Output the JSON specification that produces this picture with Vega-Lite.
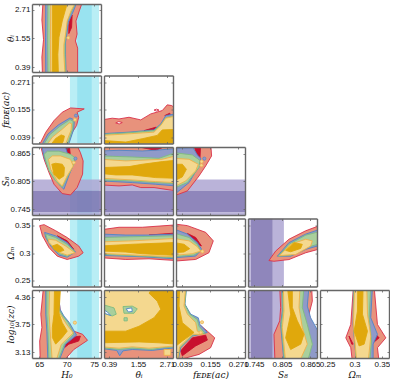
{"$schema":"https://vega.github.io/schema/vega-lite/v6.json","padding":{"left":1,"top":3,"right":0,"bottom":0},"background":"white","bounds":"flush","spacing":{"row":3.5,"column":3},"columns":5,
"config":{"legend":{"disable":true},"axis":{"grid":false,"domainColor":"#666666","domainWidth":1.4,"tickColor":"#666666","tickWidth":0.8,"tickSize":-2,"labelFont":"Liberation Sans","labelFontSize":8,"labelColor":"#111111","labelPadding":4,"labelOverlap":false,"labelFlush":false,"labelBound":false,"titleFont":"DejaVu Serif","titleFontSize":9,"titleFontWeight":"normal","titleFontStyle":"italic","titleColor":"#111111","format":".3~g"},"axisX":{"titlePadding":2},"axisY":{"titlePadding":-1},"view":{"stroke":null}},
"datasets":{
"blank":[{"k":1}],
"hb":[{"a":70.6,"b":71.9,"id":"l"},{"a":71.9,"b":74.6,"id":"x"},{"a":74.6,"b":75.9,"id":"l"}],
"sb":[{"a":0.785,"b":0.809,"id":"m"},{"a":0.738,"b":0.785,"id":"k"},{"a":0.732,"b":0.738,"id":"m"}],
"p11":[{"id":"s","x":65.7,"y":3.05},{"id":"s","x":72.9,"y":3.05},{"id":"s","x":72.3,"y":2.67},{"id":"s","x":71.7,"y":2.26},{"id":"s","x":71.9,"y":1.73},{"id":"s","x":71.6,"y":1.45},{"id":"s","x":72.0,"y":1.16},{"id":"s","x":72.0,"y":0.8},{"id":"s","x":72.0,"y":0.1},{"id":"s","x":65.6,"y":0.1},{"id":"s","x":65.5,"y":0.8},{"id":"s","x":65.8,"y":1.5},{"id":"s","x":65.5,"y":2.3},{"id":"s","x":65.7,"y":3.05},
{"id":"r","x":70.4,"y":2.1},{"id":"r","x":70.7,"y":2.4},{"id":"r","x":71.0,"y":2.5},{"id":"r","x":70.9,"y":2.0},{"id":"r","x":70.4,"y":1.75},{"id":"r","x":70.4,"y":2.1},
{"id":"b","x":66.2,"y":3.05},{"id":"b","x":71.9,"y":3.05},{"id":"b","x":71.3,"y":2.7},{"id":"b","x":70.3,"y":2.2},{"id":"b","x":70.1,"y":1.8},{"id":"b","x":69.8,"y":1.4},{"id":"b","x":69.8,"y":0.9},{"id":"b","x":69.9,"y":0.1},{"id":"b","x":66.2,"y":0.1},{"id":"b","x":66.15,"y":1.6},{"id":"b","x":66.2,"y":3.05},
{"id":"n","x":66.6,"y":3.05},{"id":"n","x":71.8,"y":3.05},{"id":"n","x":71.0,"y":2.7},{"id":"n","x":70.1,"y":2.25},{"id":"n","x":69.9,"y":1.8},{"id":"n","x":69.7,"y":1.4},{"id":"n","x":69.7,"y":0.9},{"id":"n","x":69.8,"y":0.1},{"id":"n","x":66.6,"y":0.1},{"id":"n","x":66.55,"y":1.5},{"id":"n","x":66.6,"y":3.05},
{"id":"c","x":67.1,"y":3.05},{"id":"c","x":71.7,"y":3.05},{"id":"c","x":70.8,"y":2.67},{"id":"c","x":70.1,"y":2.26},{"id":"c","x":69.8,"y":1.73},{"id":"c","x":69.5,"y":1.3},{"id":"c","x":69.5,"y":0.9},{"id":"c","x":69.7,"y":0.1},{"id":"c","x":67.1,"y":0.1},{"id":"c","x":67.05,"y":1.5},{"id":"c","x":67.1,"y":3.05},
{"id":"o","x":67.4,"y":3.05},{"id":"o","x":70.2,"y":3.05},{"id":"o","x":69.2,"y":2.26},{"id":"o","x":68.6,"y":1.6},{"id":"o","x":68.4,"y":0.9},{"id":"o","x":68.5,"y":0.1},{"id":"o","x":67.4,"y":0.1},{"id":"o","x":67.4,"y":3.05}],
"d11":[{"id":"y","x":70.3,"y":1.58}],
"p21":[{"id":"s","x":65.0,"y":0.005},{"id":"s","x":66.2,"y":0.061},{"id":"s","x":67.7,"y":0.11},{"id":"s","x":69.2,"y":0.145},{"id":"s","x":70.7,"y":0.163},{"id":"s","x":73.2,"y":0.159},{"id":"s","x":71.9,"y":0.145},{"id":"s","x":72.2,"y":0.124},{"id":"s","x":71.8,"y":0.089},{"id":"s","x":71.0,"y":0.06},{"id":"s","x":70.1,"y":0.005},{"id":"s","x":65.0,"y":0.005},
{"id":"b","x":65.4,"y":0.005},{"id":"b","x":66.6,"y":0.054},{"id":"b","x":68.5,"y":0.092},{"id":"b","x":70.6,"y":0.121},{"id":"b","x":71.4,"y":0.113},{"id":"b","x":71.3,"y":0.075},{"id":"b","x":70.3,"y":0.005},{"id":"b","x":65.4,"y":0.005},
{"id":"n","x":65.7,"y":0.005},{"id":"n","x":66.9,"y":0.05},{"id":"n","x":68.7,"y":0.085},{"id":"n","x":70.6,"y":0.114},{"id":"n","x":71.2,"y":0.107},{"id":"n","x":71.1,"y":0.075},{"id":"n","x":70.1,"y":0.005},{"id":"n","x":65.7,"y":0.005},
{"id":"c","x":66.3,"y":0.005},{"id":"c","x":67.4,"y":0.04},{"id":"c","x":69.0,"y":0.07},{"id":"c","x":70.5,"y":0.1},{"id":"c","x":70.9,"y":0.097},{"id":"c","x":70.8,"y":0.07},{"id":"c","x":69.7,"y":0.005},{"id":"c","x":66.3,"y":0.005},
{"id":"o","x":67.0,"y":0.005},{"id":"o","x":68.0,"y":0.035},{"id":"o","x":69.0,"y":0.05},{"id":"o","x":69.6,"y":0.045},{"id":"o","x":69.4,"y":0.025},{"id":"o","x":69.0,"y":0.005},{"id":"o","x":67.0,"y":0.005}],
"d21":[{"id":"d","x":71.7,"y":0.131},{"id":"y","x":71.5,"y":0.114}],
"p31":[{"id":"s","x":65.1,"y":0.89},{"id":"s","x":65.9,"y":0.853},{"id":"s","x":66.8,"y":0.824},{"id":"s","x":67.7,"y":0.799},{"id":"s","x":69.2,"y":0.7786},{"id":"s","x":70.7,"y":0.7757},{"id":"s","x":71.9,"y":0.7917},{"id":"s","x":72.9,"y":0.8207},{"id":"s","x":73.0,"y":0.8497},{"id":"s","x":72.5,"y":0.8678},{"id":"s","x":71.6,"y":0.89},{"id":"s","x":65.1,"y":0.89},
{"id":"r","x":69.5,"y":0.89},{"id":"r","x":70.1,"y":0.864},{"id":"r","x":70.7,"y":0.86},{"id":"r","x":70.4,"y":0.89},{"id":"r","x":69.5,"y":0.89},
{"id":"b","x":65.4,"y":0.89},{"id":"b","x":65.9,"y":0.857},{"id":"b","x":66.8,"y":0.831},{"id":"b","x":67.7,"y":0.813},{"id":"b","x":68.9,"y":0.795},{"id":"b","x":69.5,"y":0.788},{"id":"b","x":70.5,"y":0.8207},{"id":"b","x":71.5,"y":0.8497},{"id":"b","x":70.7,"y":0.8606},{"id":"b","x":70.1,"y":0.8678},{"id":"b","x":69.5,"y":0.89},{"id":"b","x":65.4,"y":0.89},
{"id":"n","x":65.9,"y":0.864},{"id":"n","x":66.2,"y":0.85},{"id":"n","x":66.8,"y":0.828},{"id":"n","x":68.0,"y":0.806},{"id":"n","x":69.2,"y":0.792},{"id":"n","x":70.4,"y":0.8207},{"id":"n","x":71.3,"y":0.842},{"id":"n","x":71.5,"y":0.857},{"id":"n","x":70.7,"y":0.864},{"id":"n","x":68.6,"y":0.871},{"id":"n","x":66.5,"y":0.871},{"id":"n","x":65.9,"y":0.864},
{"id":"c","x":66.7,"y":0.853},{"id":"c","x":67.1,"y":0.8316},{"id":"c","x":68.3,"y":0.806},{"id":"c","x":69.2,"y":0.795},{"id":"c","x":70.1,"y":0.817},{"id":"c","x":71.2,"y":0.8388},{"id":"c","x":70.7,"y":0.853},{"id":"c","x":68.9,"y":0.8606},{"id":"c","x":67.4,"y":0.8606},{"id":"c","x":66.7,"y":0.853},
{"id":"o","x":67.3,"y":0.8425},{"id":"o","x":67.7,"y":0.8207},{"id":"o","x":68.6,"y":0.8098},{"id":"o","x":69.5,"y":0.817},{"id":"o","x":69.6,"y":0.8352},{"id":"o","x":69.2,"y":0.8425},{"id":"o","x":68.0,"y":0.8446},{"id":"o","x":67.3,"y":0.8425}],
"d31":[{"id":"d","x":71.6,"y":0.8548},{"id":"y","x":71.3,"y":0.846}],
"p41":[{"id":"s","x":65.1,"y":0.35},{"id":"s","x":65.9,"y":0.3518},{"id":"s","x":68.0,"y":0.3407},{"id":"s","x":70.1,"y":0.3283},{"id":"s","x":72.2,"y":0.3129},{"id":"s","x":73.0,"y":0.3005},{"id":"s","x":72.2,"y":0.2943},{"id":"s","x":70.1,"y":0.2882},{"id":"s","x":68.3,"y":0.2943},{"id":"s","x":66.8,"y":0.3098},{"id":"s","x":65.6,"y":0.3314},{"id":"s","x":65.1,"y":0.35},
{"id":"r","x":68.3,"y":0.3314},{"id":"r","x":70.1,"y":0.3222},{"id":"r","x":71.3,"y":0.3067},{"id":"r","x":70.1,"y":0.316},{"id":"r","x":68.3,"y":0.3314},
{"id":"b","x":66.0,"y":0.3376},{"id":"b","x":68.0,"y":0.3314},{"id":"b","x":70.1,"y":0.3191},{"id":"b","x":71.6,"y":0.3018},{"id":"b","x":70.1,"y":0.2925},{"id":"b","x":68.6,"y":0.2962},{"id":"b","x":67.1,"y":0.3129},{"id":"b","x":66.2,"y":0.3283},{"id":"b","x":66.0,"y":0.3376},
{"id":"n","x":66.2,"y":0.3345},{"id":"n","x":68.0,"y":0.3283},{"id":"n","x":70.1,"y":0.316},{"id":"n","x":71.5,"y":0.3024},{"id":"n","x":70.1,"y":0.2943},{"id":"n","x":68.7,"y":0.2987},{"id":"n","x":67.3,"y":0.3129},{"id":"n","x":66.4,"y":0.3271},{"id":"n","x":66.2,"y":0.3345},
{"id":"c","x":66.7,"y":0.3253},{"id":"c","x":68.0,"y":0.3234},{"id":"c","x":69.8,"y":0.3129},{"id":"c","x":71.5,"y":0.3005},{"id":"c","x":70.1,"y":0.2962},{"id":"c","x":68.9,"y":0.3005},{"id":"c","x":67.7,"y":0.3098},{"id":"c","x":66.8,"y":0.3191},{"id":"c","x":66.7,"y":0.3253},
{"id":"o","x":67.4,"y":0.3129},{"id":"o","x":68.3,"y":0.316},{"id":"o","x":69.2,"y":0.3098},{"id":"o","x":69.5,"y":0.3049},{"id":"o","x":68.6,"y":0.3018},{"id":"o","x":67.7,"y":0.3067},{"id":"o","x":67.4,"y":0.3129}],
"p51":[{"id":"s","x":65.8,"y":4.6},{"id":"s","x":65.3,"y":3.98},{"id":"s","x":65.5,"y":3.68},{"id":"s","x":65.1,"y":3.38},{"id":"s","x":65.2,"y":2.9},{"id":"s","x":69.2,"y":2.9},{"id":"s","x":71.3,"y":3.19},{"id":"s","x":73.8,"y":3.395},{"id":"s","x":72.9,"y":3.53},{"id":"s","x":71.3,"y":3.6},{"id":"s","x":70.4,"y":3.75},{"id":"s","x":69.5,"y":3.9},{"id":"s","x":68.9,"y":4.0},{"id":"s","x":68.3,"y":4.6},{"id":"s","x":65.8,"y":4.6},
{"id":"r","x":68.9,"y":3.27},{"id":"r","x":70.7,"y":3.46},{"id":"r","x":72.5,"y":3.49},{"id":"r","x":72.2,"y":3.38},{"id":"r","x":70.4,"y":3.31},{"id":"r","x":69.2,"y":3.19},{"id":"r","x":68.9,"y":3.27},
{"id":"b","x":66.2,"y":4.6},{"id":"b","x":66.2,"y":3.98},{"id":"b","x":66.4,"y":3.6},{"id":"b","x":66.6,"y":2.9},{"id":"b","x":68.5,"y":2.9},{"id":"b","x":69.8,"y":3.31},{"id":"b","x":71.8,"y":3.51},{"id":"b","x":71.2,"y":3.64},{"id":"b","x":70.5,"y":3.79},{"id":"b","x":69.5,"y":3.94},{"id":"b","x":68.8,"y":4.09},{"id":"b","x":68.4,"y":4.6},{"id":"b","x":66.2,"y":4.6},
{"id":"n","x":66.4,"y":4.6},{"id":"n","x":66.4,"y":3.98},{"id":"n","x":66.6,"y":3.6},{"id":"n","x":66.8,"y":2.9},{"id":"n","x":68.3,"y":2.9},{"id":"n","x":69.6,"y":3.31},{"id":"n","x":71.3,"y":3.53},{"id":"n","x":70.9,"y":3.64},{"id":"n","x":70.3,"y":3.79},{"id":"n","x":69.3,"y":3.94},{"id":"n","x":68.6,"y":4.09},{"id":"n","x":68.2,"y":4.6},{"id":"n","x":66.4,"y":4.6},
{"id":"c","x":66.9,"y":4.6},{"id":"c","x":66.8,"y":4.0},{"id":"c","x":67.0,"y":3.6},{"id":"c","x":67.4,"y":2.9},{"id":"c","x":68.0,"y":2.9},{"id":"c","x":69.0,"y":3.3},{"id":"c","x":71.2,"y":3.56},{"id":"c","x":70.0,"y":3.75},{"id":"c","x":69.0,"y":3.95},{"id":"c","x":68.1,"y":4.1},{"id":"c","x":68.0,"y":4.6},{"id":"c","x":66.9,"y":4.6},
{"id":"o","x":67.8,"y":4.6},{"id":"o","x":67.7,"y":3.98},{"id":"o","x":67.4,"y":3.68},{"id":"o","x":67.4,"y":3.46},{"id":"o","x":68.0,"y":3.31},{"id":"o","x":69.2,"y":3.46},{"id":"o","x":70.1,"y":3.6},{"id":"o","x":69.2,"y":3.79},{"id":"o","x":68.6,"y":4.0},{"id":"o","x":68.9,"y":4.6},{"id":"o","x":67.8,"y":4.6}],
"d51":[{"id":"y","x":71.5,"y":3.79}],
"p22":[{"id":"s","x":0.1,"y":0.113},{"id":"s","x":0.52,"y":0.12},{"id":"s","x":0.79,"y":0.117},{"id":"s","x":1.19,"y":0.124},{"id":"s","x":1.66,"y":0.113},{"id":"s","x":2.06,"y":0.138},{"id":"s","x":2.52,"y":0.152},{"id":"s","x":2.72,"y":0.176},{"id":"s","x":2.9,"y":0.173},{"id":"s","x":3.05,"y":0.16},{"id":"s","x":3.05,"y":0.005},{"id":"s","x":0.1,"y":0.005},{"id":"s","x":0.1,"y":0.113},
{"id":"r","x":1.79,"y":0.068},{"id":"r","x":2.26,"y":0.082},{"id":"r","x":2.39,"y":0.08},{"id":"r","x":2.19,"y":0.068},{"id":"r","x":1.79,"y":0.068},
{"id":"q","x":2.62,"y":0.131},{"id":"q","x":2.82,"y":0.141},{"id":"q","x":2.86,"y":0.131},{"id":"q","x":2.62,"y":0.131},
{"id":"b","x":0.1,"y":0.055},{"id":"b","x":1.19,"y":0.0616},{"id":"b","x":2.19,"y":0.071},{"id":"b","x":2.46,"y":0.096},{"id":"b","x":2.66,"y":0.131},{"id":"b","x":3.05,"y":0.138},{"id":"b","x":3.05,"y":0.005},{"id":"b","x":0.1,"y":0.005},{"id":"b","x":0.1,"y":0.055},
{"id":"n","x":0.1,"y":0.052},{"id":"n","x":1.19,"y":0.059},{"id":"n","x":2.19,"y":0.068},{"id":"n","x":2.46,"y":0.092},{"id":"n","x":2.66,"y":0.122},{"id":"n","x":3.05,"y":0.131},{"id":"n","x":3.05,"y":0.005},{"id":"n","x":0.1,"y":0.005},{"id":"n","x":0.1,"y":0.052},
{"id":"c","x":0.1,"y":0.048},{"id":"c","x":1.19,"y":0.0546},{"id":"c","x":2.19,"y":0.0616},{"id":"c","x":2.46,"y":0.0895},{"id":"c","x":2.66,"y":0.12},{"id":"c","x":3.05,"y":0.129},{"id":"c","x":3.05,"y":0.005},{"id":"c","x":0.1,"y":0.005},{"id":"c","x":0.1,"y":0.048},
{"id":"o","x":0.1,"y":0.027},{"id":"o","x":1.06,"y":0.02},{"id":"o","x":1.72,"y":0.034},{"id":"o","x":2.32,"y":0.048},{"id":"o","x":2.52,"y":0.071},{"id":"o","x":3.05,"y":0.073},{"id":"o","x":3.05,"y":0.005},{"id":"o","x":0.1,"y":0.005},{"id":"o","x":0.1,"y":0.027},
{"id":"v","x":0.66,"y":0.1},{"id":"v","x":0.78,"y":0.106},{"id":"v","x":0.92,"y":0.102},{"id":"v","x":0.8,"y":0.096},{"id":"v","x":0.66,"y":0.1},
{"id":"w","x":2.19,"y":0.154},{"id":"w","x":2.29,"y":0.158},{"id":"w","x":2.39,"y":0.154},{"id":"w","x":2.29,"y":0.15},{"id":"w","x":2.19,"y":0.154}],
"p32":[{"id":"s","x":0.1,"y":0.89},{"id":"s","x":3.05,"y":0.89},{"id":"s","x":3.05,"y":0.785},{"id":"s","x":2.9,"y":0.7859},{"id":"s","x":2.19,"y":0.7917},{"id":"s","x":1.66,"y":0.7917},{"id":"s","x":1.32,"y":0.7974},{"id":"s","x":0.79,"y":0.7953},{"id":"s","x":0.1,"y":0.7974},{"id":"s","x":0.1,"y":0.89},
{"id":"r","x":1.72,"y":0.89},{"id":"r","x":1.72,"y":0.8786},{"id":"r","x":2.26,"y":0.873},{"id":"r","x":2.52,"y":0.8786},{"id":"r","x":2.52,"y":0.89},{"id":"r","x":1.72,"y":0.89},
{"id":"b","x":0.1,"y":0.8714},{"id":"b","x":0.79,"y":0.8728},{"id":"b","x":1.72,"y":0.8714},{"id":"b","x":2.26,"y":0.873},{"id":"b","x":3.05,"y":0.8765},{"id":"b","x":3.05,"y":0.7953},{"id":"b","x":2.26,"y":0.7989},{"id":"b","x":1.32,"y":0.8025},{"id":"b","x":0.1,"y":0.8061},{"id":"b","x":0.1,"y":0.8714},
{"id":"n","x":0.1,"y":0.8605},{"id":"n","x":1.32,"y":0.8583},{"id":"n","x":2.39,"y":0.8554},{"id":"n","x":3.05,"y":0.8678},{"id":"n","x":3.05,"y":0.8003},{"id":"n","x":2.26,"y":0.8025},{"id":"n","x":1.32,"y":0.8061},{"id":"n","x":0.1,"y":0.8083},{"id":"n","x":0.1,"y":0.8605},
{"id":"c","x":0.1,"y":0.8533},{"id":"c","x":1.06,"y":0.8497},{"id":"c","x":2.52,"y":0.8533},{"id":"c","x":3.05,"y":0.8605},{"id":"c","x":3.05,"y":0.8025},{"id":"c","x":2.26,"y":0.8047},{"id":"c","x":1.32,"y":0.8083},{"id":"c","x":0.1,"y":0.812},{"id":"c","x":0.1,"y":0.8533},
{"id":"o","x":0.1,"y":0.8352},{"id":"o","x":1.19,"y":0.8373},{"id":"o","x":1.72,"y":0.8424},{"id":"o","x":2.52,"y":0.8482},{"id":"o","x":3.05,"y":0.8511},{"id":"o","x":3.05,"y":0.812},{"id":"o","x":2.26,"y":0.8134},{"id":"o","x":1.32,"y":0.8192},{"id":"o","x":0.66,"y":0.8192},{"id":"o","x":0.1,"y":0.8221},{"id":"o","x":0.1,"y":0.8352}],
"p42":[{"id":"s","x":0.1,"y":0.3426},{"id":"s","x":0.79,"y":0.347},{"id":"s","x":1.72,"y":0.347},{"id":"s","x":3.05,"y":0.3513},{"id":"s","x":3.05,"y":0.2864},{"id":"s","x":1.99,"y":0.2895},{"id":"s","x":1.06,"y":0.2883},{"id":"s","x":0.1,"y":0.2914},{"id":"s","x":0.1,"y":0.3426},
{"id":"r","x":1.99,"y":0.3328},{"id":"r","x":3.05,"y":0.3365},{"id":"r","x":3.05,"y":0.3303},{"id":"r","x":1.99,"y":0.3328},
{"id":"b","x":0.1,"y":0.3346},{"id":"b","x":1.06,"y":0.3328},{"id":"b","x":1.99,"y":0.3328},{"id":"b","x":3.05,"y":0.3346},{"id":"b","x":3.05,"y":0.2895},{"id":"b","x":1.72,"y":0.2932},{"id":"b","x":0.1,"y":0.2957},{"id":"b","x":0.1,"y":0.3346},
{"id":"n","x":0.1,"y":0.3284},{"id":"n","x":1.32,"y":0.3297},{"id":"n","x":3.05,"y":0.3315},{"id":"n","x":3.05,"y":0.2914},{"id":"n","x":1.72,"y":0.2944},{"id":"n","x":0.1,"y":0.2975},{"id":"n","x":0.1,"y":0.3284},
{"id":"c","x":0.1,"y":0.3204},{"id":"c","x":1.32,"y":0.3222},{"id":"c","x":3.05,"y":0.3266},{"id":"c","x":3.05,"y":0.2932},{"id":"c","x":1.72,"y":0.2957},{"id":"c","x":0.1,"y":0.2994},{"id":"c","x":0.1,"y":0.3204},
{"id":"o","x":0.1,"y":0.313},{"id":"o","x":1.32,"y":0.316},{"id":"o","x":3.05,"y":0.3192},{"id":"o","x":3.05,"y":0.2957},{"id":"o","x":1.72,"y":0.2988},{"id":"o","x":1.06,"y":0.3019},{"id":"o","x":0.1,"y":0.3037},{"id":"o","x":0.1,"y":0.313}],
"p52":[{"id":"s","x":0.1,"y":2.9},{"id":"s","x":3.05,"y":2.9},{"id":"s","x":3.05,"y":4.6},{"id":"s","x":0.1,"y":4.6},{"id":"s","x":0.1,"y":2.9},
{"id":"b","x":0.1,"y":3.21},{"id":"b","x":0.7,"y":3.17},{"id":"b","x":0.82,"y":3.05},{"id":"b","x":0.95,"y":3.16},{"id":"b","x":1.32,"y":3.19},{"id":"b","x":2.12,"y":3.17},{"id":"b","x":3.05,"y":3.23},{"id":"b","x":3.05,"y":4.6},{"id":"b","x":0.1,"y":4.6},{"id":"b","x":0.1,"y":3.21},
{"id":"n","x":0.1,"y":3.23},{"id":"n","x":0.79,"y":3.19},{"id":"n","x":1.32,"y":3.22},{"id":"n","x":2.12,"y":3.19},{"id":"n","x":2.52,"y":3.23},{"id":"n","x":3.05,"y":3.25},{"id":"n","x":3.05,"y":4.6},{"id":"n","x":0.1,"y":4.6},{"id":"n","x":0.1,"y":3.23},
{"id":"c","x":0.1,"y":3.25},{"id":"c","x":0.79,"y":3.22},{"id":"c","x":1.32,"y":3.25},{"id":"c","x":1.99,"y":3.22},{"id":"c","x":3.05,"y":3.27},{"id":"c","x":3.05,"y":4.6},{"id":"c","x":0.1,"y":4.6},{"id":"c","x":0.1,"y":3.25},
{"id":"o","x":0.1,"y":3.6},{"id":"o","x":1.06,"y":3.6},{"id":"o","x":1.59,"y":3.71},{"id":"o","x":2.19,"y":3.9},{"id":"o","x":2.46,"y":4.09},{"id":"o","x":2.32,"y":4.27},{"id":"o","x":1.99,"y":4.45},{"id":"o","x":2.19,"y":4.6},{"id":"o","x":3.05,"y":4.6},{"id":"o","x":3.05,"y":3.31},{"id":"o","x":2.39,"y":3.34},{"id":"o","x":1.59,"y":3.36},{"id":"o","x":0.1,"y":3.34},{"id":"o","x":0.1,"y":3.6},
{"id":"e","x":2.59,"y":3.19},{"id":"e","x":2.86,"y":3.19},{"id":"e","x":2.86,"y":3.06},{"id":"e","x":2.59,"y":3.06},{"id":"e","x":2.59,"y":3.19},
{"id":"g","x":0.1,"y":4.2},{"id":"g","x":0.59,"y":4.12},{"id":"g","x":0.68,"y":3.98},{"id":"g","x":0.52,"y":3.94},{"id":"g","x":0.1,"y":4.01},{"id":"g","x":0.1,"y":4.2},
{"id":"h","x":0.95,"y":4.15},{"id":"h","x":1.32,"y":4.16},{"id":"h","x":1.52,"y":4.1},{"id":"h","x":1.39,"y":4.0},{"id":"h","x":0.99,"y":4.0},{"id":"h","x":0.95,"y":4.15},
{"id":"i","x":0.99,"y":3.9},{"id":"i","x":1.12,"y":3.9},{"id":"i","x":1.12,"y":3.83},{"id":"i","x":0.99,"y":3.83},{"id":"i","x":0.99,"y":3.9},
{"id":"t","x":1.08,"y":4.1},{"id":"t","x":1.3,"y":4.12},{"id":"t","x":1.32,"y":4.04},{"id":"t","x":1.16,"y":4.03},{"id":"t","x":1.08,"y":4.1},
{"id":"u","x":0.1,"y":4.1},{"id":"u","x":0.32,"y":4.03},{"id":"u","x":0.46,"y":3.95},{"id":"u","x":0.26,"y":3.99},{"id":"u","x":0.1,"y":4.1}],
"p33":[{"id":"s","x":0.005,"y":0.89},{"id":"s","x":0.157,"y":0.89},{"id":"s","x":0.161,"y":0.8605},{"id":"s","x":0.1366,"y":0.8388},{"id":"s","x":0.109,"y":0.817},{"id":"s","x":0.061,"y":0.7844},{"id":"s","x":0.005,"y":0.7735},{"id":"s","x":0.005,"y":0.89},
{"id":"r","x":0.084,"y":0.89},{"id":"r","x":0.116,"y":0.89},{"id":"r","x":0.113,"y":0.8554},{"id":"r","x":0.0995,"y":0.8641},{"id":"r","x":0.084,"y":0.89},
{"id":"b","x":0.005,"y":0.8772},{"id":"b","x":0.084,"y":0.8786},{"id":"b","x":0.102,"y":0.8627},{"id":"b","x":0.116,"y":0.8554},{"id":"b","x":0.109,"y":0.8388},{"id":"b","x":0.068,"y":0.8025},{"id":"b","x":0.005,"y":0.7757},{"id":"b","x":0.005,"y":0.8772},
{"id":"n","x":0.005,"y":0.8678},{"id":"n","x":0.0815,"y":0.8627},{"id":"n","x":0.112,"y":0.8511},{"id":"n","x":0.109,"y":0.8352},{"id":"n","x":0.061,"y":0.8025},{"id":"n","x":0.005,"y":0.7902},{"id":"n","x":0.005,"y":0.8678},
{"id":"c","x":0.005,"y":0.8554},{"id":"c","x":0.068,"y":0.8533},{"id":"c","x":0.106,"y":0.8424},{"id":"c","x":0.095,"y":0.8279},{"id":"c","x":0.054,"y":0.8061},{"id":"c","x":0.005,"y":0.7931},{"id":"c","x":0.005,"y":0.8554},
{"id":"o","x":0.005,"y":0.8424},{"id":"o","x":0.04,"y":0.8424},{"id":"o","x":0.057,"y":0.8315},{"id":"o","x":0.04,"y":0.8149},{"id":"o","x":0.005,"y":0.8061},{"id":"o","x":0.005,"y":0.8424}],
"d33":[{"id":"d","x":0.131,"y":0.8547},{"id":"y","x":0.12,"y":0.8482},{"id":"y","x":0.119,"y":0.8402}],
"p43":[{"id":"s","x":0.005,"y":0.3531},{"id":"s","x":0.061,"y":0.35},{"id":"s","x":0.1366,"y":0.3377},{"id":"s","x":0.168,"y":0.3222},{"id":"s","x":0.15,"y":0.3006},{"id":"s","x":0.0953,"y":0.2883},{"id":"s","x":0.005,"y":0.2852},{"id":"s","x":0.005,"y":0.3531},
{"id":"r","x":0.061,"y":0.3358},{"id":"r","x":0.0953,"y":0.3284},{"id":"r","x":0.119,"y":0.313},{"id":"r","x":0.102,"y":0.316},{"id":"r","x":0.068,"y":0.3284},{"id":"r","x":0.061,"y":0.3358},
{"id":"b","x":0.005,"y":0.3439},{"id":"b","x":0.061,"y":0.3346},{"id":"b","x":0.102,"y":0.3192},{"id":"b","x":0.12,"y":0.3068},{"id":"b","x":0.0953,"y":0.2944},{"id":"b","x":0.005,"y":0.2914},{"id":"b","x":0.005,"y":0.3439},
{"id":"n","x":0.005,"y":0.3365},{"id":"n","x":0.068,"y":0.3284},{"id":"n","x":0.102,"y":0.316},{"id":"n","x":0.116,"y":0.3037},{"id":"n","x":0.0885,"y":0.2963},{"id":"n","x":0.005,"y":0.2932},{"id":"n","x":0.005,"y":0.3365},
{"id":"c","x":0.005,"y":0.3266},{"id":"c","x":0.068,"y":0.3222},{"id":"c","x":0.102,"y":0.3117},{"id":"c","x":0.116,"y":0.3037},{"id":"c","x":0.0815,"y":0.2988},{"id":"c","x":0.005,"y":0.2957},{"id":"c","x":0.005,"y":0.3266},
{"id":"o","x":0.005,"y":0.3192},{"id":"o","x":0.047,"y":0.316},{"id":"o","x":0.0705,"y":0.308},{"id":"o","x":0.047,"y":0.3019},{"id":"o","x":0.005,"y":0.3006},{"id":"o","x":0.005,"y":0.3192}],
"d43":[{"id":"y","x":0.123,"y":0.303}],
"p53":[{"id":"s","x":0.005,"y":4.6},{"id":"s","x":0.057,"y":4.6},{"id":"s","x":0.047,"y":4.24},{"id":"s","x":0.068,"y":4.01},{"id":"s","x":0.102,"y":3.79},{"id":"s","x":0.1435,"y":3.6},{"id":"s","x":0.174,"y":3.45},{"id":"s","x":0.157,"y":3.23},{"id":"s","x":0.109,"y":3.08},{"id":"s","x":0.047,"y":2.99},{"id":"s","x":0.04,"y":2.9},{"id":"s","x":0.005,"y":2.9},{"id":"s","x":0.005,"y":4.6},
{"id":"r","x":0.0335,"y":3.16},{"id":"r","x":0.0816,"y":3.45},{"id":"r","x":0.1366,"y":3.51},{"id":"r","x":0.1435,"y":3.4},{"id":"r","x":0.0953,"y":3.27},{"id":"r","x":0.04,"y":3.05},{"id":"r","x":0.0335,"y":3.16},
{"id":"b","x":0.005,"y":4.6},{"id":"b","x":0.058,"y":4.6},{"id":"b","x":0.051,"y":4.2},{"id":"b","x":0.0747,"y":3.98},{"id":"b","x":0.106,"y":3.9},{"id":"b","x":0.113,"y":3.75},{"id":"b","x":0.1435,"y":3.57},{"id":"b","x":0.0816,"y":3.49},{"id":"b","x":0.0335,"y":3.23},{"id":"b","x":0.021,"y":2.9},{"id":"b","x":0.005,"y":2.9},{"id":"b","x":0.005,"y":4.6},
{"id":"n","x":0.005,"y":4.6},{"id":"n","x":0.057,"y":4.6},{"id":"n","x":0.05,"y":4.2},{"id":"n","x":0.0705,"y":3.98},{"id":"n","x":0.102,"y":3.86},{"id":"n","x":0.109,"y":3.71},{"id":"n","x":0.134,"y":3.55},{"id":"n","x":0.0816,"y":3.51},{"id":"n","x":0.0306,"y":3.23},{"id":"n","x":0.0195,"y":2.9},{"id":"n","x":0.005,"y":2.9},{"id":"n","x":0.005,"y":4.6},
{"id":"c","x":0.005,"y":4.6},{"id":"c","x":0.054,"y":4.6},{"id":"c","x":0.047,"y":4.16},{"id":"c","x":0.061,"y":3.98},{"id":"c","x":0.0953,"y":3.79},{"id":"c","x":0.102,"y":3.6},{"id":"c","x":0.127,"y":3.53},{"id":"c","x":0.0816,"y":3.53},{"id":"c","x":0.029,"y":3.25},{"id":"c","x":0.018,"y":2.9},{"id":"c","x":0.005,"y":2.9},{"id":"c","x":0.005,"y":4.6},
{"id":"o","x":0.005,"y":4.6},{"id":"o","x":0.0293,"y":4.6},{"id":"o","x":0.0265,"y":4.16},{"id":"o","x":0.0403,"y":3.79},{"id":"o","x":0.0885,"y":3.57},{"id":"o","x":0.0403,"y":3.38},{"id":"o","x":0.005,"y":3.23},{"id":"o","x":0.005,"y":4.6}],
"d53":[{"id":"y","x":0.1215,"y":3.8},{"id":"y","x":0.116,"y":3.57}],
"p44":[{"id":"s","x":0.777,"y":0.2863},{"id":"s","x":0.7913,"y":0.3036},{"id":"s","x":0.8199,"y":0.3252},{"id":"s","x":0.8557,"y":0.3406},{"id":"s","x":0.89,"y":0.3515},{"id":"s","x":0.89,"y":0.3085},{"id":"s","x":0.8557,"y":0.3005},{"id":"s","x":0.8199,"y":0.2881},{"id":"s","x":0.7877,"y":0.285},{"id":"s","x":0.777,"y":0.2863},
{"id":"b","x":0.7949,"y":0.2943},{"id":"b","x":0.8199,"y":0.319},{"id":"b","x":0.8557,"y":0.3345},{"id":"b","x":0.89,"y":0.3445},{"id":"b","x":0.89,"y":0.315},{"id":"b","x":0.8557,"y":0.3067},{"id":"b","x":0.8235,"y":0.2943},{"id":"b","x":0.7949,"y":0.2943},
{"id":"n","x":0.797,"y":0.2943},{"id":"n","x":0.8199,"y":0.3159},{"id":"n","x":0.8557,"y":0.3326},{"id":"n","x":0.89,"y":0.34},{"id":"n","x":0.89,"y":0.318},{"id":"n","x":0.8557,"y":0.3097},{"id":"n","x":0.8235,"y":0.2961},{"id":"n","x":0.797,"y":0.2943},
{"id":"c","x":0.7999,"y":0.2955},{"id":"c","x":0.8235,"y":0.3159},{"id":"c","x":0.8557,"y":0.3252},{"id":"c","x":0.87,"y":0.3221},{"id":"c","x":0.8664,"y":0.3128},{"id":"c","x":0.8342,"y":0.2974},{"id":"c","x":0.7999,"y":0.2955},
{"id":"o","x":0.8128,"y":0.3048},{"id":"o","x":0.8306,"y":0.319},{"id":"o","x":0.8485,"y":0.3159},{"id":"o","x":0.845,"y":0.3085},{"id":"o","x":0.8235,"y":0.3023},{"id":"o","x":0.8128,"y":0.3048}],
"p54":[{"id":"s","x":0.8,"y":4.6},{"id":"s","x":0.802,"y":4.13},{"id":"s","x":0.8,"y":3.83},{"id":"s","x":0.7877,"y":3.53},{"id":"s","x":0.7899,"y":2.9},{"id":"s","x":0.89,"y":2.9},{"id":"s","x":0.89,"y":3.34},{"id":"s","x":0.8714,"y":3.68},{"id":"s","x":0.8628,"y":3.98},{"id":"s","x":0.87,"y":4.27},{"id":"s","x":0.8685,"y":4.6},{"id":"s","x":0.8,"y":4.6},
{"id":"r","x":0.87,"y":3.38},{"id":"r","x":0.89,"y":3.34},{"id":"r","x":0.89,"y":3.16},{"id":"r","x":0.87,"y":3.38},
{"id":"b","x":0.8042,"y":4.6},{"id":"b","x":0.8056,"y":4.05},{"id":"b","x":0.802,"y":3.75},{"id":"b","x":0.8092,"y":2.9},{"id":"b","x":0.89,"y":2.9},{"id":"b","x":0.89,"y":3.45},{"id":"b","x":0.8664,"y":3.9},{"id":"b","x":0.8592,"y":4.16},{"id":"b","x":0.8628,"y":4.6},{"id":"b","x":0.8042,"y":4.6},
{"id":"n","x":0.8056,"y":4.6},{"id":"n","x":0.807,"y":4.05},{"id":"n","x":0.8034,"y":3.75},{"id":"n","x":0.8106,"y":2.9},{"id":"n","x":0.8592,"y":2.9},{"id":"n","x":0.87,"y":3.31},{"id":"n","x":0.8592,"y":3.75},{"id":"n","x":0.8485,"y":4.13},{"id":"n","x":0.8521,"y":4.6},{"id":"n","x":0.8056,"y":4.6},
{"id":"c","x":0.8078,"y":4.6},{"id":"c","x":0.8092,"y":4.05},{"id":"c","x":0.8056,"y":3.68},{"id":"c","x":0.8128,"y":2.9},{"id":"c","x":0.8414,"y":2.9},{"id":"c","x":0.8592,"y":3.31},{"id":"c","x":0.8485,"y":3.68},{"id":"c","x":0.8414,"y":4.13},{"id":"c","x":0.8435,"y":4.6},{"id":"c","x":0.8078,"y":4.6},
{"id":"o","x":0.8163,"y":4.6},{"id":"o","x":0.8271,"y":4.6},{"id":"o","x":0.8271,"y":4.13},{"id":"o","x":0.8378,"y":3.83},{"id":"o","x":0.8521,"y":3.53},{"id":"o","x":0.845,"y":3.31},{"id":"o","x":0.8235,"y":3.19},{"id":"o","x":0.8128,"y":3.45},{"id":"o","x":0.8235,"y":3.98},{"id":"o","x":0.8163,"y":4.6}],
"p55":[{"id":"s","x":0.2981,"y":4.6},{"id":"s","x":0.2932,"y":3.75},{"id":"s","x":0.2841,"y":3.45},{"id":"s","x":0.2932,"y":3.23},{"id":"s","x":0.2963,"y":2.9},{"id":"s","x":0.345,"y":2.9},{"id":"s","x":0.3419,"y":3.23},{"id":"s","x":0.3572,"y":3.45},{"id":"s","x":0.3419,"y":3.75},{"id":"s","x":0.3358,"y":4.6},{"id":"s","x":0.2981,"y":4.6},
{"id":"r","x":0.29,"y":3.49},{"id":"r","x":0.2975,"y":3.31},{"id":"r","x":0.295,"y":3.31},{"id":"r","x":0.29,"y":3.49},
{"id":"q","x":0.3358,"y":3.57},{"id":"q","x":0.345,"y":3.45},{"id":"q","x":0.334,"y":3.34},{"id":"q","x":0.3358,"y":3.57},
{"id":"b","x":0.2981,"y":4.6},{"id":"b","x":0.2975,"y":3.75},{"id":"b","x":0.3023,"y":3.08},{"id":"b","x":0.3054,"y":2.9},{"id":"b","x":0.334,"y":2.9},{"id":"b","x":0.334,"y":3.31},{"id":"b","x":0.3419,"y":3.53},{"id":"b","x":0.3297,"y":3.9},{"id":"b","x":0.3328,"y":4.6},{"id":"b","x":0.2981,"y":4.6},
{"id":"n","x":0.2993,"y":4.6},{"id":"n","x":0.2981,"y":3.75},{"id":"n","x":0.3036,"y":2.9},{"id":"n","x":0.3279,"y":2.9},{"id":"n","x":0.331,"y":3.38},{"id":"n","x":0.3267,"y":3.9},{"id":"n","x":0.3297,"y":4.6},{"id":"n","x":0.2993,"y":4.6},
{"id":"c","x":0.2999,"y":4.6},{"id":"c","x":0.2981,"y":3.75},{"id":"c","x":0.3042,"y":2.9},{"id":"c","x":0.3249,"y":2.9},{"id":"c","x":0.3297,"y":3.49},{"id":"c","x":0.3237,"y":3.98},{"id":"c","x":0.3224,"y":4.6},{"id":"c","x":0.2999,"y":4.6},
{"id":"o","x":0.306,"y":4.6},{"id":"o","x":0.3054,"y":4.05},{"id":"o","x":0.2993,"y":3.6},{"id":"o","x":0.3084,"y":3.27},{"id":"o","x":0.3176,"y":3.31},{"id":"o","x":0.3237,"y":3.6},{"id":"o","x":0.3145,"y":3.98},{"id":"o","x":0.3157,"y":4.6},{"id":"o","x":0.306,"y":4.6}]
},
"concat":[
{"width":69,"height":68,"resolve":{"axis":{"x":"independent","y":"independent"}},"layer":[
{"data":{"name":"hb"},"mark":{"type":"rect","clip":true},"encoding":{"x":{"field":"a","type":"quantitative","scale":{"domain":[63.7,76.25]},"axis":null},"x2":{"field":"b"},"fill":{"field":"id","type":"nominal","scale":{"range":["#8f9ac9","#f4d88f","#8f9ac9","#f4d88f","#a9cf9c","#a9cf9c","#a9cf9c","#7b71af","#b9eef5","#aea6d2","#a9cf9c","#e0a80c","#c8102e","#c8102e","#e8927c","#ffffff","#ffffff","#ffffff","#ffffff","#99e3f0","#f4d88f"]}}}},
{"data":{"name":"p11"},"mark":{"type":"line","clip":true,"strokeWidth":0.9},"encoding":{"x":{"field":"x","type":"quantitative","scale":{"domain":[63.7,76.25]},"axis":{"values":[65,70,75],"labels":false,"title":null,"zindex":1}},"y":{"field":"y","type":"quantitative","scale":{"domain":[0.19,2.95]},"axis":{"values":[0.39,1.55,2.71],"title":"θᵢ","zindex":1}},"order":{"value":null},"detail":{"field":"id"},"fill":{"field":"id","type":"nominal"},"stroke":{"field":"id","type":"nominal","scale":{"range":["#4f86c6","#efb04a","#4f86c6","#efb04a","#7fbb7f","#7fbb7f","#7fbb7f","#7fbb7f","#e0a80c","#c8102e","#c8102e","#d9304a","#4f86c6","#4f86c6","#d9304a","#d9304a","#efb04a"]}}}},
{"data":{"name":"d11"},"mark":{"type":"point","filled":true,"size":10,"strokeWidth":0.7,"opacity":1},"encoding":{"x":{"field":"x","type":"quantitative","scale":{"domain":[63.7,76.25]},"axis":null},"y":{"field":"y","type":"quantitative","scale":{"domain":[0.19,2.95]},"axis":null},"fill":{"field":"id","type":"nominal"},"stroke":{"field":"id","type":"nominal"}}},
{"data":{"name":"d11"},"mark":{"type":"point","opacity":0},"encoding":{"x":{"field":"x","type":"quantitative","scale":{"domain":[63.7,76.25]},"axis":{"orient":"top","values":[65,70,75],"labels":false,"title":null,"zindex":1}},"y":{"field":"y","type":"quantitative","scale":{"domain":[0.19,2.95]},"axis":{"orient":"right","values":[0.39,1.55,2.71],"labels":false,"title":null,"zindex":1}}}}
]},
{"width":69,"height":68,"data":{"name":"blank"},"mark":{"type":"point","opacity":0},"encoding":{}},
{"width":69,"height":68,"data":{"name":"blank"},"mark":{"type":"point","opacity":0},"encoding":{}},
{"width":69,"height":68,"data":{"name":"blank"},"mark":{"type":"point","opacity":0},"encoding":{}},
{"width":69,"height":68,"data":{"name":"blank"},"mark":{"type":"point","opacity":0},"encoding":{}},
{"width":69,"height":68,"resolve":{"axis":{"x":"independent","y":"independent"}},"layer":[
{"data":{"name":"hb"},"mark":{"type":"rect","clip":true},"encoding":{"x":{"field":"a","type":"quantitative","scale":{"domain":[63.7,76.25]},"axis":null},"x2":{"field":"b"},"fill":{"field":"id","type":"nominal"}}},
{"data":{"name":"p21"},"mark":{"type":"line","clip":true,"strokeWidth":0.9},"encoding":{"x":{"field":"x","type":"quantitative","scale":{"domain":[63.7,76.25]},"axis":{"values":[65,70,75],"labels":false,"title":null,"zindex":1}},"y":{"field":"y","type":"quantitative","scale":{"domain":[0.014,0.299]},"axis":{"values":[0.039,0.155,0.271],"title":"fᴇᴅᴇ(aᴄ)","zindex":1}},"order":{"value":null},"detail":{"field":"id"},"fill":{"field":"id","type":"nominal"},"stroke":{"field":"id","type":"nominal"}}},
{"data":{"name":"d21"},"mark":{"type":"point","filled":true,"size":10,"strokeWidth":0.7,"opacity":1},"encoding":{"x":{"field":"x","type":"quantitative","scale":{"domain":[63.7,76.25]},"axis":null},"y":{"field":"y","type":"quantitative","scale":{"domain":[0.014,0.299]},"axis":null},"fill":{"field":"id","type":"nominal"},"stroke":{"field":"id","type":"nominal"}}},
{"data":{"name":"d21"},"mark":{"type":"point","opacity":0},"encoding":{"x":{"field":"x","type":"quantitative","scale":{"domain":[63.7,76.25]},"axis":{"orient":"top","values":[65,70,75],"labels":false,"title":null,"zindex":1}},"y":{"field":"y","type":"quantitative","scale":{"domain":[0.014,0.299]},"axis":{"orient":"right","values":[0.039,0.155,0.271],"labels":false,"title":null,"zindex":1}}}}
]},
{"width":69,"height":68,"resolve":{"axis":{"x":"independent","y":"independent"}},"layer":[
{"data":{"name":"p22"},"mark":{"type":"line","clip":true,"strokeWidth":0.9},"encoding":{"x":{"field":"x","type":"quantitative","scale":{"domain":[0.19,2.95]},"axis":{"values":[0.39,1.55,2.71],"labels":false,"title":null,"zindex":1}},"y":{"field":"y","type":"quantitative","scale":{"domain":[0.014,0.299]},"axis":{"values":[0.039,0.155,0.271],"labels":false,"title":null,"zindex":1}},"order":{"value":null},"detail":{"field":"id"},"fill":{"field":"id","type":"nominal"},"stroke":{"field":"id","type":"nominal"}}},
{"data":{"name":"p22"},"mark":{"type":"point","opacity":0,"clip":true},"encoding":{"x":{"field":"x","type":"quantitative","scale":{"domain":[0.19,2.95]},"axis":{"orient":"top","values":[0.39,1.55,2.71],"labels":false,"title":null,"zindex":1}},"y":{"field":"y","type":"quantitative","scale":{"domain":[0.014,0.299]},"axis":{"orient":"right","values":[0.039,0.155,0.271],"labels":false,"title":null,"zindex":1}}}}
]},
{"width":69,"height":68,"data":{"name":"blank"},"mark":{"type":"point","opacity":0},"encoding":{}},
{"width":69,"height":68,"data":{"name":"blank"},"mark":{"type":"point","opacity":0},"encoding":{}},
{"width":69,"height":68,"data":{"name":"blank"},"mark":{"type":"point","opacity":0},"encoding":{}},
{"width":69,"height":68,"resolve":{"axis":{"x":"independent","y":"independent"}},"layer":[
{"data":{"name":"hb"},"mark":{"type":"rect","clip":true},"encoding":{"x":{"field":"a","type":"quantitative","scale":{"domain":[63.7,76.25]},"axis":null},"x2":{"field":"b"},"fill":{"field":"id","type":"nominal"}}},
{"data":{"name":"sb"},"mark":{"type":"rect","clip":true,"opacity":0.85},"encoding":{"y":{"field":"a","type":"quantitative","scale":{"domain":[0.732,0.88]},"axis":null},"y2":{"field":"b"},"fill":{"field":"id","type":"nominal"}}},
{"data":{"name":"p31"},"mark":{"type":"line","clip":true,"strokeWidth":0.9},"encoding":{"x":{"field":"x","type":"quantitative","scale":{"domain":[63.7,76.25]},"axis":{"values":[65,70,75],"labels":false,"title":null,"zindex":1}},"y":{"field":"y","type":"quantitative","scale":{"domain":[0.732,0.88]},"axis":{"values":[0.745,0.805,0.865],"title":"S₈","zindex":1}},"order":{"value":null},"detail":{"field":"id"},"fill":{"field":"id","type":"nominal"},"stroke":{"field":"id","type":"nominal"}}},
{"data":{"name":"d31"},"mark":{"type":"point","filled":true,"size":10,"strokeWidth":0.7,"opacity":1},"encoding":{"x":{"field":"x","type":"quantitative","scale":{"domain":[63.7,76.25]},"axis":null},"y":{"field":"y","type":"quantitative","scale":{"domain":[0.732,0.88]},"axis":null},"fill":{"field":"id","type":"nominal"},"stroke":{"field":"id","type":"nominal"}}},
{"data":{"name":"d31"},"mark":{"type":"point","opacity":0},"encoding":{"x":{"field":"x","type":"quantitative","scale":{"domain":[63.7,76.25]},"axis":{"orient":"top","values":[65,70,75],"labels":false,"title":null,"zindex":1}},"y":{"field":"y","type":"quantitative","scale":{"domain":[0.732,0.88]},"axis":{"orient":"right","values":[0.745,0.805,0.865],"labels":false,"title":null,"zindex":1}}}}
]},
{"width":69,"height":68,"resolve":{"axis":{"x":"independent","y":"independent"}},"layer":[
{"data":{"name":"sb"},"mark":{"type":"rect","clip":true,"opacity":0.85},"encoding":{"y":{"field":"a","type":"quantitative","scale":{"domain":[0.732,0.88]},"axis":null},"y2":{"field":"b"},"fill":{"field":"id","type":"nominal"}}},
{"data":{"name":"p32"},"mark":{"type":"line","clip":true,"strokeWidth":0.9},"encoding":{"x":{"field":"x","type":"quantitative","scale":{"domain":[0.19,2.95]},"axis":{"values":[0.39,1.55,2.71],"labels":false,"title":null,"zindex":1}},"y":{"field":"y","type":"quantitative","scale":{"domain":[0.732,0.88]},"axis":{"values":[0.745,0.805,0.865],"labels":false,"title":null,"zindex":1}},"order":{"value":null},"detail":{"field":"id"},"fill":{"field":"id","type":"nominal"},"stroke":{"field":"id","type":"nominal"}}},
{"data":{"name":"p32"},"mark":{"type":"point","opacity":0,"clip":true},"encoding":{"x":{"field":"x","type":"quantitative","scale":{"domain":[0.19,2.95]},"axis":{"orient":"top","values":[0.39,1.55,2.71],"labels":false,"title":null,"zindex":1}},"y":{"field":"y","type":"quantitative","scale":{"domain":[0.732,0.88]},"axis":{"orient":"right","values":[0.745,0.805,0.865],"labels":false,"title":null,"zindex":1}}}}
]},
{"width":69,"height":68,"resolve":{"axis":{"x":"independent","y":"independent"}},"layer":[
{"data":{"name":"sb"},"mark":{"type":"rect","clip":true,"opacity":0.85},"encoding":{"y":{"field":"a","type":"quantitative","scale":{"domain":[0.732,0.88]},"axis":null},"y2":{"field":"b"},"fill":{"field":"id","type":"nominal"}}},
{"data":{"name":"p33"},"mark":{"type":"line","clip":true,"strokeWidth":0.9},"encoding":{"x":{"field":"x","type":"quantitative","scale":{"domain":[0.014,0.299]},"axis":{"values":[0.039,0.155,0.271],"labels":false,"title":null,"zindex":1}},"y":{"field":"y","type":"quantitative","scale":{"domain":[0.732,0.88]},"axis":{"values":[0.745,0.805,0.865],"labels":false,"title":null,"zindex":1}},"order":{"value":null},"detail":{"field":"id"},"fill":{"field":"id","type":"nominal"},"stroke":{"field":"id","type":"nominal"}}},
{"data":{"name":"d33"},"mark":{"type":"point","filled":true,"size":10,"strokeWidth":0.7,"opacity":1},"encoding":{"x":{"field":"x","type":"quantitative","scale":{"domain":[0.014,0.299]},"axis":null},"y":{"field":"y","type":"quantitative","scale":{"domain":[0.732,0.88]},"axis":null},"fill":{"field":"id","type":"nominal"},"stroke":{"field":"id","type":"nominal"}}},
{"data":{"name":"d33"},"mark":{"type":"point","opacity":0},"encoding":{"x":{"field":"x","type":"quantitative","scale":{"domain":[0.014,0.299]},"axis":{"orient":"top","values":[0.039,0.155,0.271],"labels":false,"title":null,"zindex":1}},"y":{"field":"y","type":"quantitative","scale":{"domain":[0.732,0.88]},"axis":{"orient":"right","values":[0.745,0.805,0.865],"labels":false,"title":null,"zindex":1}}}}
]},
{"width":69,"height":68,"data":{"name":"blank"},"mark":{"type":"point","opacity":0},"encoding":{}},
{"width":69,"height":68,"data":{"name":"blank"},"mark":{"type":"point","opacity":0},"encoding":{}},
{"width":69,"height":68,"resolve":{"axis":{"x":"independent","y":"independent"}},"layer":[
{"data":{"name":"hb"},"mark":{"type":"rect","clip":true},"encoding":{"x":{"field":"a","type":"quantitative","scale":{"domain":[63.7,76.25]},"axis":null},"x2":{"field":"b"},"fill":{"field":"id","type":"nominal"}}},
{"data":{"name":"p41"},"mark":{"type":"line","clip":true,"strokeWidth":0.9},"encoding":{"x":{"field":"x","type":"quantitative","scale":{"domain":[63.7,76.25]},"axis":{"values":[65,70,75],"labels":false,"title":null,"zindex":1}},"y":{"field":"y","type":"quantitative","scale":{"domain":[0.239,0.363]},"axis":{"values":[0.25,0.3,0.35],"title":"Ωₘ","zindex":1}},"order":{"value":null},"detail":{"field":"id"},"fill":{"field":"id","type":"nominal"},"stroke":{"field":"id","type":"nominal"}}},
{"data":{"name":"p41"},"mark":{"type":"point","opacity":0,"clip":true},"encoding":{"x":{"field":"x","type":"quantitative","scale":{"domain":[63.7,76.25]},"axis":{"orient":"top","values":[65,70,75],"labels":false,"title":null,"zindex":1}},"y":{"field":"y","type":"quantitative","scale":{"domain":[0.239,0.363]},"axis":{"orient":"right","values":[0.25,0.3,0.35],"labels":false,"title":null,"zindex":1}}}}
]},
{"width":69,"height":68,"resolve":{"axis":{"x":"independent","y":"independent"}},"layer":[
{"data":{"name":"p42"},"mark":{"type":"line","clip":true,"strokeWidth":0.9},"encoding":{"x":{"field":"x","type":"quantitative","scale":{"domain":[0.19,2.95]},"axis":{"values":[0.39,1.55,2.71],"labels":false,"title":null,"zindex":1}},"y":{"field":"y","type":"quantitative","scale":{"domain":[0.239,0.363]},"axis":{"values":[0.25,0.3,0.35],"labels":false,"title":null,"zindex":1}},"order":{"value":null},"detail":{"field":"id"},"fill":{"field":"id","type":"nominal"},"stroke":{"field":"id","type":"nominal"}}},
{"data":{"name":"p42"},"mark":{"type":"point","opacity":0,"clip":true},"encoding":{"x":{"field":"x","type":"quantitative","scale":{"domain":[0.19,2.95]},"axis":{"orient":"top","values":[0.39,1.55,2.71],"labels":false,"title":null,"zindex":1}},"y":{"field":"y","type":"quantitative","scale":{"domain":[0.239,0.363]},"axis":{"orient":"right","values":[0.25,0.3,0.35],"labels":false,"title":null,"zindex":1}}}}
]},
{"width":69,"height":68,"resolve":{"axis":{"x":"independent","y":"independent"}},"layer":[
{"data":{"name":"p43"},"mark":{"type":"line","clip":true,"strokeWidth":0.9},"encoding":{"x":{"field":"x","type":"quantitative","scale":{"domain":[0.014,0.299]},"axis":{"values":[0.039,0.155,0.271],"labels":false,"title":null,"zindex":1}},"y":{"field":"y","type":"quantitative","scale":{"domain":[0.239,0.363]},"axis":{"values":[0.25,0.3,0.35],"labels":false,"title":null,"zindex":1}},"order":{"value":null},"detail":{"field":"id"},"fill":{"field":"id","type":"nominal"},"stroke":{"field":"id","type":"nominal"}}},
{"data":{"name":"d43"},"mark":{"type":"point","filled":true,"size":10,"strokeWidth":0.7,"opacity":1},"encoding":{"x":{"field":"x","type":"quantitative","scale":{"domain":[0.014,0.299]},"axis":null},"y":{"field":"y","type":"quantitative","scale":{"domain":[0.239,0.363]},"axis":null},"fill":{"field":"id","type":"nominal"},"stroke":{"field":"id","type":"nominal"}}},
{"data":{"name":"d43"},"mark":{"type":"point","opacity":0},"encoding":{"x":{"field":"x","type":"quantitative","scale":{"domain":[0.014,0.299]},"axis":{"orient":"top","values":[0.039,0.155,0.271],"labels":false,"title":null,"zindex":1}},"y":{"field":"y","type":"quantitative","scale":{"domain":[0.239,0.363]},"axis":{"orient":"right","values":[0.25,0.3,0.35],"labels":false,"title":null,"zindex":1}}}}
]},
{"width":69,"height":68,"resolve":{"axis":{"x":"independent","y":"independent"}},"layer":[
{"data":{"name":"sb"},"mark":{"type":"rect","clip":true,"opacity":0.85},"encoding":{"x":{"field":"a","type":"quantitative","scale":{"domain":[0.732,0.88]},"axis":null},"x2":{"field":"b"},"fill":{"field":"id","type":"nominal"}}},
{"data":{"name":"p44"},"mark":{"type":"line","clip":true,"strokeWidth":0.9},"encoding":{"x":{"field":"x","type":"quantitative","scale":{"domain":[0.732,0.88]},"axis":{"values":[0.745,0.805,0.865],"labels":false,"title":null,"zindex":1}},"y":{"field":"y","type":"quantitative","scale":{"domain":[0.239,0.363]},"axis":{"values":[0.25,0.3,0.35],"labels":false,"title":null,"zindex":1}},"order":{"value":null},"detail":{"field":"id"},"fill":{"field":"id","type":"nominal"},"stroke":{"field":"id","type":"nominal"}}},
{"data":{"name":"p44"},"mark":{"type":"point","opacity":0,"clip":true},"encoding":{"x":{"field":"x","type":"quantitative","scale":{"domain":[0.732,0.88]},"axis":{"orient":"top","values":[0.745,0.805,0.865],"labels":false,"title":null,"zindex":1}},"y":{"field":"y","type":"quantitative","scale":{"domain":[0.239,0.363]},"axis":{"orient":"right","values":[0.25,0.3,0.35],"labels":false,"title":null,"zindex":1}}}}
]},
{"width":69,"height":68,"data":{"name":"blank"},"mark":{"type":"point","opacity":0},"encoding":{}},
{"width":69,"height":68,"resolve":{"axis":{"x":"independent","y":"independent"}},"layer":[
{"data":{"name":"hb"},"mark":{"type":"rect","clip":true},"encoding":{"x":{"field":"a","type":"quantitative","scale":{"domain":[63.7,76.25]},"axis":null},"x2":{"field":"b"},"fill":{"field":"id","type":"nominal"}}},
{"data":{"name":"p51"},"mark":{"type":"line","clip":true,"strokeWidth":0.9},"encoding":{"x":{"field":"x","type":"quantitative","scale":{"domain":[63.7,76.25]},"axis":{"values":[65,70,75],"title":"H₀","zindex":1}},"y":{"field":"y","type":"quantitative","scale":{"domain":[3.0,4.52]},"axis":{"values":[3.13,3.75,4.36],"title":"log₁₀(zᴄ)","zindex":1}},"order":{"value":null},"detail":{"field":"id"},"fill":{"field":"id","type":"nominal"},"stroke":{"field":"id","type":"nominal"}}},
{"data":{"name":"d51"},"mark":{"type":"point","filled":true,"size":10,"strokeWidth":0.7,"opacity":1},"encoding":{"x":{"field":"x","type":"quantitative","scale":{"domain":[63.7,76.25]},"axis":null},"y":{"field":"y","type":"quantitative","scale":{"domain":[3.0,4.52]},"axis":null},"fill":{"field":"id","type":"nominal"},"stroke":{"field":"id","type":"nominal"}}},
{"data":{"name":"d51"},"mark":{"type":"point","opacity":0},"encoding":{"x":{"field":"x","type":"quantitative","scale":{"domain":[63.7,76.25]},"axis":{"orient":"top","values":[65,70,75],"labels":false,"title":null,"zindex":1}},"y":{"field":"y","type":"quantitative","scale":{"domain":[3.0,4.52]},"axis":{"orient":"right","values":[3.13,3.75,4.36],"labels":false,"title":null,"zindex":1}}}}
]},
{"width":69,"height":68,"resolve":{"axis":{"x":"independent","y":"independent"}},"layer":[
{"data":{"name":"p52"},"mark":{"type":"line","clip":true,"strokeWidth":0.9},"encoding":{"x":{"field":"x","type":"quantitative","scale":{"domain":[0.19,2.95]},"axis":{"values":[0.39,1.55,2.71],"title":"θᵢ","zindex":1}},"y":{"field":"y","type":"quantitative","scale":{"domain":[3.0,4.52]},"axis":{"values":[3.13,3.75,4.36],"labels":false,"title":null,"zindex":1}},"order":{"value":null},"detail":{"field":"id"},"fill":{"field":"id","type":"nominal"},"stroke":{"field":"id","type":"nominal"}}},
{"data":{"name":"p52"},"mark":{"type":"point","opacity":0,"clip":true},"encoding":{"x":{"field":"x","type":"quantitative","scale":{"domain":[0.19,2.95]},"axis":{"orient":"top","values":[0.39,1.55,2.71],"labels":false,"title":null,"zindex":1}},"y":{"field":"y","type":"quantitative","scale":{"domain":[3.0,4.52]},"axis":{"orient":"right","values":[3.13,3.75,4.36],"labels":false,"title":null,"zindex":1}}}}
]},
{"width":69,"height":68,"resolve":{"axis":{"x":"independent","y":"independent"}},"layer":[
{"data":{"name":"p53"},"mark":{"type":"line","clip":true,"strokeWidth":0.9},"encoding":{"x":{"field":"x","type":"quantitative","scale":{"domain":[0.014,0.299]},"axis":{"values":[0.039,0.155,0.271],"title":"fᴇᴅᴇ(aᴄ)","zindex":1}},"y":{"field":"y","type":"quantitative","scale":{"domain":[3.0,4.52]},"axis":{"values":[3.13,3.75,4.36],"labels":false,"title":null,"zindex":1}},"order":{"value":null},"detail":{"field":"id"},"fill":{"field":"id","type":"nominal"},"stroke":{"field":"id","type":"nominal"}}},
{"data":{"name":"d53"},"mark":{"type":"point","filled":true,"size":10,"strokeWidth":0.7,"opacity":1},"encoding":{"x":{"field":"x","type":"quantitative","scale":{"domain":[0.014,0.299]},"axis":null},"y":{"field":"y","type":"quantitative","scale":{"domain":[3.0,4.52]},"axis":null},"fill":{"field":"id","type":"nominal"},"stroke":{"field":"id","type":"nominal"}}},
{"data":{"name":"d53"},"mark":{"type":"point","opacity":0},"encoding":{"x":{"field":"x","type":"quantitative","scale":{"domain":[0.014,0.299]},"axis":{"orient":"top","values":[0.039,0.155,0.271],"labels":false,"title":null,"zindex":1}},"y":{"field":"y","type":"quantitative","scale":{"domain":[3.0,4.52]},"axis":{"orient":"right","values":[3.13,3.75,4.36],"labels":false,"title":null,"zindex":1}}}}
]},
{"width":69,"height":68,"resolve":{"axis":{"x":"independent","y":"independent"}},"layer":[
{"data":{"name":"sb"},"mark":{"type":"rect","clip":true,"opacity":0.85},"encoding":{"x":{"field":"a","type":"quantitative","scale":{"domain":[0.732,0.88]},"axis":null},"x2":{"field":"b"},"fill":{"field":"id","type":"nominal"}}},
{"data":{"name":"p54"},"mark":{"type":"line","clip":true,"strokeWidth":0.9},"encoding":{"x":{"field":"x","type":"quantitative","scale":{"domain":[0.732,0.88]},"axis":{"values":[0.745,0.805,0.865],"title":"S₈","zindex":1}},"y":{"field":"y","type":"quantitative","scale":{"domain":[3.0,4.52]},"axis":{"values":[3.13,3.75,4.36],"labels":false,"title":null,"zindex":1}},"order":{"value":null},"detail":{"field":"id"},"fill":{"field":"id","type":"nominal"},"stroke":{"field":"id","type":"nominal"}}},
{"data":{"name":"p54"},"mark":{"type":"point","opacity":0,"clip":true},"encoding":{"x":{"field":"x","type":"quantitative","scale":{"domain":[0.732,0.88]},"axis":{"orient":"top","values":[0.745,0.805,0.865],"labels":false,"title":null,"zindex":1}},"y":{"field":"y","type":"quantitative","scale":{"domain":[3.0,4.52]},"axis":{"orient":"right","values":[3.13,3.75,4.36],"labels":false,"title":null,"zindex":1}}}}
]},
{"width":69,"height":68,"resolve":{"axis":{"x":"independent","y":"independent"}},"layer":[
{"data":{"name":"p55"},"mark":{"type":"line","clip":true,"strokeWidth":0.9},"encoding":{"x":{"field":"x","type":"quantitative","scale":{"domain":[0.237,0.363]},"axis":{"values":[0.25,0.3,0.35],"title":"Ωₘ","zindex":1}},"y":{"field":"y","type":"quantitative","scale":{"domain":[3.0,4.52]},"axis":{"values":[3.13,3.75,4.36],"labels":false,"title":null,"zindex":1}},"order":{"value":null},"detail":{"field":"id"},"fill":{"field":"id","type":"nominal"},"stroke":{"field":"id","type":"nominal"}}},
{"data":{"name":"p55"},"mark":{"type":"point","opacity":0,"clip":true},"encoding":{"x":{"field":"x","type":"quantitative","scale":{"domain":[0.237,0.363]},"axis":{"orient":"top","values":[0.25,0.3,0.35],"labels":false,"title":null,"zindex":1}},"y":{"field":"y","type":"quantitative","scale":{"domain":[3.0,4.52]},"axis":{"orient":"right","values":[3.13,3.75,4.36],"labels":false,"title":null,"zindex":1}}}}
]}
]}
